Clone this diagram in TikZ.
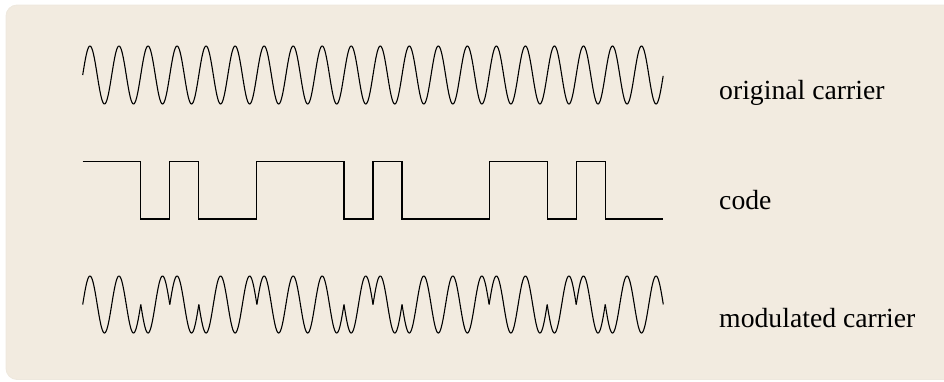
\documentclass[tikz,border=0pt]{standalone}
\usepackage{fontspec}
\setmainfont{Liberation Serif}
\definecolor{bgfill}{RGB}{242,235,224}
\definecolor{bgedge}{RGB}{238,232,222}
\begin{document}
\begin{tikzpicture}[x=1pt,y=-1pt,
  wave/.style={line width=1.1pt, black, line join=round},
  lbl/.style={anchor=base west, inner sep=0pt, font=\fontsize{27.7}{32}\selectfont}]
\useasboundingbox (0,0) rectangle (944,381);
\begin{scope}
\clip (0,0) rectangle (944,381);
\fill[bgfill, draw=bgedge, line width=0.8pt, rounded corners=11pt] (6,5) rectangle (970,379.5);
\end{scope}
% original carrier
\draw[wave] plot[domain=0:20, samples=801] ({82.7+29.03*\x}, {75-29*sin(360*\x)});
% code
\draw[wave, line join=miter]
  (82.7+29.03*0,161.7) -- (82.7+29.03*2,161.7) -- (82.7+29.03*2,219)
  -- (82.7+29.03*3,219) -- (82.7+29.03*3,161.7) -- (82.7+29.03*4,161.7)
  -- (82.7+29.03*4,219) -- (82.7+29.03*6,219) -- (82.7+29.03*6,161.7)
  -- (82.7+29.03*9,161.7) -- (82.7+29.03*9,219) -- (82.7+29.03*10,219)
  -- (82.7+29.03*10,161.7) -- (82.7+29.03*11,161.7) -- (82.7+29.03*11,219)
  -- (82.7+29.03*14,219) -- (82.7+29.03*14,161.7) -- (82.7+29.03*16,161.7)
  -- (82.7+29.03*16,219) -- (82.7+29.03*17,219) -- (82.7+29.03*17,161.7)
  -- (82.7+29.03*18,161.7) -- (82.7+29.03*18,219) -- (82.7+29.03*20,219);
% modulated carrier
\foreach \a/\b/\s in {0/2/1, 2/3/-1, 3/4/1, 4/6/-1, 6/9/1, 9/10/-1, 10/11/1, 11/14/-1, 14/16/1, 16/17/-1, 17/18/1, 18/20/-1}{
  \pgfmathtruncatemacro{\ns}{40*(\b-\a)+1}
  \draw[wave] plot[domain=\a:\b, samples=\ns] ({82.7+29.03*\x}, {304.5-\s*28.5*sin(360*\x)});
}
% labels
\node[lbl] (lcar) at (719,99.3) {original carrier};
\node[lbl] (lcode) at (719,209.3) {code};
\node[lbl] (lmod) at (719,327) {modulated carrier};
\end{tikzpicture}
\end{document}
